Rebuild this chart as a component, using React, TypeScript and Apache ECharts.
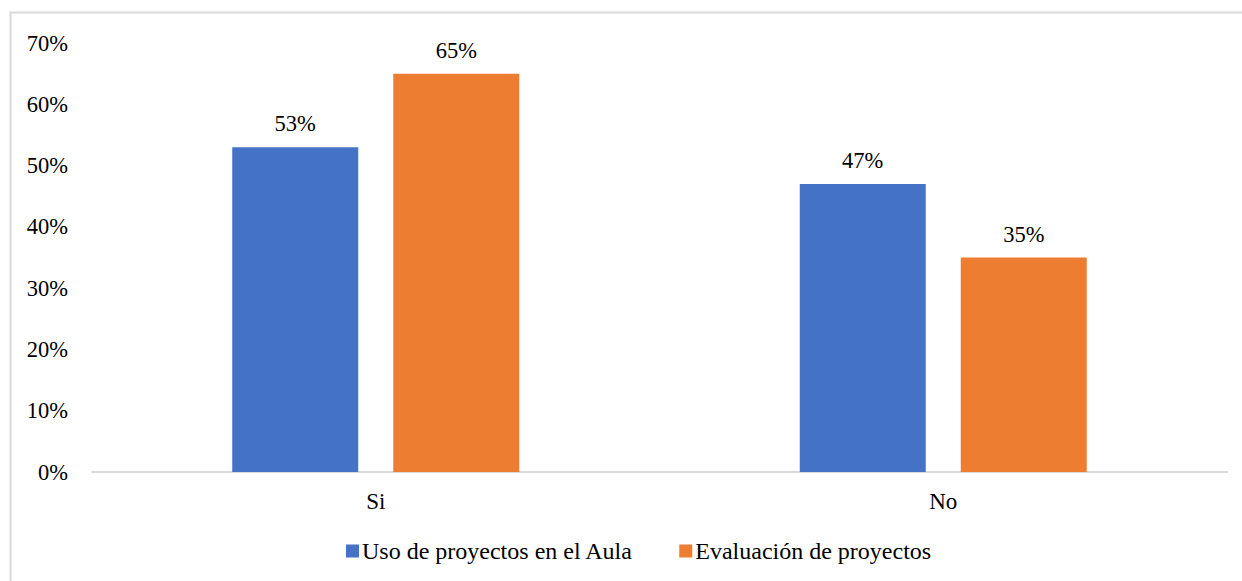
import React, { useEffect, useRef } from "react";
import * as echarts from "echarts";

const categories = ["Si", "No"];
const seriesNames = ["Uso de proyectos en el Aula", "Evaluación de proyectos"];
const usoValues = [53, 47];
const evalValues = [65, 35];
const yMax = 70;
const yInterval = 10;

const FONT = "Liberation Serif, serif";

export default function App() {
  const ref = useRef<HTMLDivElement>(null);
  useEffect(() => {
    if (!ref.current) return;
    const chart = echarts.init(ref.current, undefined, { renderer: "svg" });
    const labelStyle = {
      show: true,
      position: "top" as const,
      distance: 12,
      formatter: (p: any) => `${p.value}%`,
      color: "#000",
      fontFamily: FONT,
      fontSize: 22.5,
    };
    chart.setOption({
      animation: false,
      backgroundColor: "#fff",
      textStyle: { fontFamily: FONT },
      graphic: [
        {
          type: "rect",
          shape: { x: 10.5, y: 12.5, width: 1400, height: 800 },
          style: { fill: "none", stroke: "#d9d9d9", lineWidth: 2 },
          silent: true,
          z: -1,
        },
      ],
      grid: { left: 92, right: 15, top: 43, bottom: 109, containLabel: false },
      legend: {
        left: 341,
        top: 534,
        itemWidth: 13,
        itemHeight: 13,
        itemGap: 46,
        icon: "rect",
        textStyle: { color: "#000", fontFamily: FONT, fontSize: 24, padding: [0, 0, 0, -2] },
        data: seriesNames,
      },
      xAxis: {
        type: "category",
        data: categories,
        axisLine: { lineStyle: { color: "#d9d9d9", width: 2 } },
        axisTick: { show: false },
        axisLabel: { color: "#000", fontFamily: FONT, fontSize: 23, margin: 18 },
      },
      yAxis: {
        type: "value",
        min: 0,
        max: yMax,
        interval: yInterval,
        splitLine: { show: false },
        axisLine: { show: false },
        axisTick: { show: false },
        axisLabel: {
          color: "#000",
          fontFamily: FONT,
          fontSize: 22.5,
          margin: 24,
          formatter: (v: number) => `${v}%`,
        },
      },
      series: [
        {
          name: seriesNames[0],
          type: "bar",
          data: usoValues,
          itemStyle: { color: "#4472c4" },
          barWidth: "22.2%",
          barGap: "27.8%",
          label: labelStyle,
        },
        {
          name: seriesNames[1],
          type: "bar",
          data: evalValues,
          itemStyle: { color: "#ed7d31" },
          barWidth: "22.2%",
          barGap: "27.8%",
          label: labelStyle,
        },
      ],
    });
    return () => chart.dispose();
  }, []);
  return (
    <div
      ref={ref}
      style={{ position: "absolute", left: 0, top: 0, width: 1242, height: 581 }}
    />
  );
}
